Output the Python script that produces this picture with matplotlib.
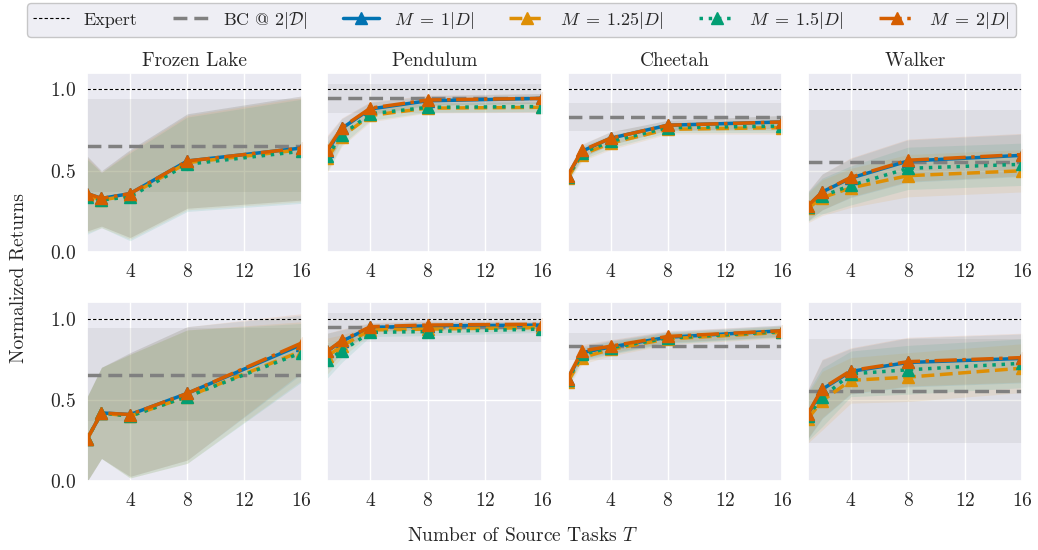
import numpy as np
import matplotlib
matplotlib.use("Agg")
import matplotlib.pyplot as plt
import seaborn as sns

sns.set_theme(style="darkgrid")
plt.rcParams["font.family"] = ["serif"]
plt.rcParams["font.serif"] = ["cmr10"]
plt.rcParams["mathtext.fontset"] = "cm"
plt.rcParams["axes.formatter.use_mathtext"] = True

# number of source tasks
T = [1, 2, 4, 8, 16]
envs = ["Frozen Lake", "Pendulum", "Cheetah", "Walker"]

# behaviour cloning baseline (same for both rows)
bc_mean = [0.655, 0.945, 0.829, 0.552]
bc_std = [0.285, 0.09, 0.085, 0.32]
expert = 1.0

# top row: mean per env, per method
top_m1 = [[0.36, 0.33, 0.36, 0.56, 0.64],
          [0.62, 0.76, 0.88, 0.93, 0.945],
          [0.47, 0.62, 0.70, 0.78, 0.80],
          [0.28, 0.37, 0.455, 0.56, 0.595]]
top_m125 = [[0.35, 0.32, 0.35, 0.55, 0.63],
            [0.58, 0.71, 0.84, 0.885, 0.89],
            [0.455, 0.60, 0.67, 0.755, 0.765],
            [0.27, 0.335, 0.395, 0.47, 0.50]]
top_m15 = [[0.34, 0.32, 0.34, 0.54, 0.62],
           [0.59, 0.72, 0.85, 0.89, 0.895],
           [0.46, 0.61, 0.68, 0.765, 0.775],
           [0.28, 0.345, 0.41, 0.515, 0.54]]
top_m2 = [[0.36, 0.33, 0.36, 0.56, 0.64],
          [0.63, 0.765, 0.885, 0.935, 0.945],
          [0.47, 0.625, 0.70, 0.78, 0.80],
          [0.285, 0.37, 0.46, 0.565, 0.60]]
top_std = [[0.23, 0.17, 0.27, 0.29, 0.32],
           [0.09, 0.06, 0.04, 0.03, 0.03],
           [0.03, 0.04, 0.04, 0.03, 0.04],
           [0.09, 0.11, 0.12, 0.13, 0.13]]

# bottom row
bot_m1 = [[0.26, 0.42, 0.41, 0.54, 0.84],
          [0.80, 0.86, 0.945, 0.955, 0.96],
          [0.63, 0.79, 0.825, 0.885, 0.925],
          [0.41, 0.565, 0.675, 0.73, 0.755]]
bot_m125 = [[0.26, 0.42, 0.40, 0.52, 0.80],
            [0.77, 0.83, 0.93, 0.935, 0.945],
            [0.61, 0.76, 0.81, 0.875, 0.915],
            [0.385, 0.495, 0.62, 0.64, 0.695]]
bot_m15 = [[0.26, 0.42, 0.40, 0.52, 0.79],
           [0.745, 0.80, 0.915, 0.92, 0.935],
           [0.62, 0.78, 0.82, 0.88, 0.92],
           [0.40, 0.515, 0.66, 0.685, 0.725]]
bot_m2 = [[0.26, 0.42, 0.41, 0.54, 0.85],
          [0.80, 0.865, 0.95, 0.96, 0.965],
          [0.63, 0.80, 0.83, 0.89, 0.925],
          [0.415, 0.57, 0.68, 0.735, 0.76]]
bot_std = [[0.26, 0.28, 0.38, 0.41, 0.18],
           [0.11, 0.07, 0.025, 0.025, 0.02],
           [0.04, 0.04, 0.04, 0.035, 0.035],
           [0.15, 0.18, 0.14, 0.15, 0.15]]

labels = [r"$M \;=\; 1|D|$", r"$M \;=\; 1.25|D|$", r"$M \;=\; 1.5|D|$", r"$M \;=\; 2|D|$"]
colors = ["#0173B2", "#DE8F05", "#029E73", "#D55E00"]
styles = ["-", "--", ":", "-."]

rows = [[top_m1, top_m125, top_m15, top_m2, top_std],
        [bot_m1, bot_m125, bot_m15, bot_m2, bot_std]]

fig, axes = plt.subplots(2, 4, figsize=(10.38, 5.5), dpi=100, sharey=True)
fig.subplots_adjust(left=0.084, right=0.985, top=0.867, bottom=0.125,
                    wspace=0.12, hspace=0.28)

for r, row in enumerate(rows):
    std = row[4]
    for c, env in enumerate(envs):
        ax = axes[r, c]
        ax.axhline(expert, color="black", lw=0.8, ls=(0, (3, 2)), label="Expert")
        ax.axhspan(bc_mean[c] - bc_std[c], bc_mean[c] + bc_std[c],
                   color="gray", alpha=0.12, lw=0)
        ax.axhline(bc_mean[c], color="gray", lw=2.5, ls=(0, (4, 2)),
                   label=r"BC @ $2|\mathcal{D}|$")
        for k in range(4):
            m = np.array(row[k][c])
            s = np.array(std[c])
            ax.fill_between(T, m - s, m + s, color=colors[k], alpha=0.1, lw=0)
            ax.plot(T, m, color=colors[k], ls=styles[k], lw=2.5,
                    marker="^", markersize=8, label=labels[k])
        ax.set_xlim(1, 16)
        ax.set_ylim(0, 1.1)
        ax.set_xticks([4, 8, 12, 16])
        ax.set_yticks([0.0, 0.5, 1.0])
        ax.tick_params(labelsize=14, pad=2)
        if r == 0:
            ax.set_title(env, fontsize=14, pad=5)

handles, labs = axes[0, 0].get_legend_handles_labels()
fig.legend(handles, labs, loc="lower left", bbox_to_anchor=(0.026, 0.933, 0.953, 0.06),
           mode="expand", ncol=6, fontsize=13, frameon=True, edgecolor="#BBBBBB",
           handlelength=2.0, handletextpad=0.8, borderaxespad=0, borderpad=0.35)
fig.text(0.018, 0.495, "Normalized Returns", rotation=90, ha="center", va="center",
         fontsize=14)
fig.text(0.504, 0.025, r"Number of Source Tasks $T$", ha="center", va="center",
         fontsize=14)

fig.savefig("out.png", dpi=100)
